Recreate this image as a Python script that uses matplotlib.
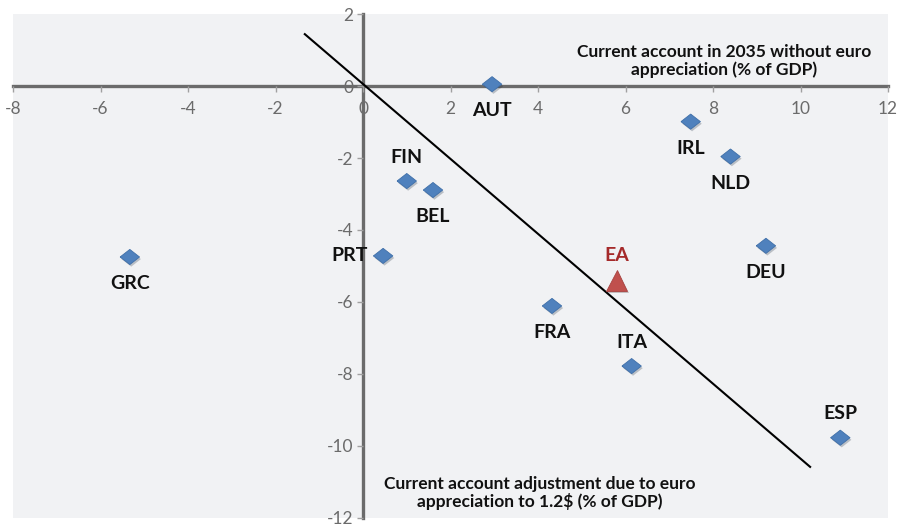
import matplotlib
matplotlib.use('Agg')
import matplotlib.pyplot as plt
import matplotlib.patheffects as pe
import numpy as np

# data
countries = ['GRC', 'PRT', 'FIN', 'BEL', 'AUT', 'IRL', 'NLD', 'DEU', 'FRA', 'ITA', 'ESP']
ca_2035 = [-5.33, 0.46, 1.0, 1.6, 2.95, 7.49, 8.4, 9.21, 4.32, 6.14, 10.91]
ca_adjust = [-4.75, -4.72, -2.64, -2.89, 0.05, -0.99, -1.96, -4.44, -6.11, -7.78, -9.77]
label_side = ['below', 'left', 'above', 'below', 'below', 'below', 'below', 'below', 'below', 'above', 'above']

ea_x = [5.8]
ea_y = [-5.4]

fit_x = [-1.33, 10.22]
fit_y = [1.44, -10.58]

xticks = [-8, -6, -4, -2, 0, 2, 4, 6, 8, 10, 12]
yticks = [-12, -10, -8, -6, -4, -2, 0, 2]

plt.rcParams['font.family'] = ['Lato', 'DejaVu Sans']

fig = plt.figure(figsize=(8.97, 5.25), dpi=100)
ax = fig.add_axes([13 / 897, 7 / 525, 875 / 897, 504 / 525])
ax.set_facecolor('#f1f2f4')
ax.set_xlim(-8, 12)
ax.set_ylim(-12, 2)

# axes through the origin
for s in ['top', 'right']:
    ax.spines[s].set_visible(False)
ax.spines['left'].set_position(('data', 0))
ax.spines['bottom'].set_position(('data', 0))
for s in ['left', 'bottom']:
    ax.spines[s].set_color('#6b6b6b')
    ax.spines[s].set_linewidth(2.4)
    ax.spines[s].set_zorder(1)

ax.set_xticks(xticks)
ax.set_yticks(yticks)
ax.set_xticklabels([str(t) for t in xticks])
ax.set_yticklabels([str(t) for t in yticks])
ax.tick_params(axis='both', colors='#a0a0a0', labelcolor='#6b6b6b', labelsize=12.5,
               length=4, width=1, direction='out')
ax.tick_params(axis='x', pad=7)
ax.tick_params(axis='y', pad=3)

# regression line
ax.plot(fit_x, fit_y, color='black', lw=1.5, zorder=2)

shadow = [pe.SimplePatchShadow(offset=(1, -1.5), alpha=0.25), pe.Normal()]
diamond = [(-1, 0), (0, 0.78), (1, 0), (0, -0.78), (-1, 0)]
ax.plot(ca_2035, ca_adjust, linestyle='none', marker=diamond, markersize=14,
        markerfacecolor='#4f81bd', markeredgecolor='#3f6fa8', markeredgewidth=0.6, zorder=3,
        path_effects=shadow)
ax.plot(ea_x, ea_y, linestyle='none', marker='^', markersize=15,
        markerfacecolor='#c0504d', markeredgecolor='#a84340', markeredgewidth=0.6, zorder=3,
        path_effects=shadow)

for name, x, y, side in zip(countries, ca_2035, ca_adjust, label_side):
    if side == 'below':
        ax.annotate(name, (x, y), xytext=(0, -13), textcoords='offset points',
                    ha='center', va='top', fontsize=14, fontweight='bold', color='#111111')
    elif side == 'above':
        ax.annotate(name, (x, y), xytext=(0, 11), textcoords='offset points',
                    ha='center', va='bottom', fontsize=14, fontweight='bold', color='#111111')
    else:
        ax.annotate(name, (x, y), xytext=(-11, 0), textcoords='offset points',
                    ha='right', va='center', fontsize=14, fontweight='bold', color='#111111')

ax.annotate('EA', (ea_x[0], ea_y[0]), xytext=(0, 12), textcoords='offset points',
            ha='center', va='bottom', fontsize=14, fontweight='bold', color='#a52a2a')

ax.text(8.25, 0.7, 'Current account in 2035 without euro\nappreciation (% of GDP)',
        ha='center', va='center', fontsize=12.5, fontweight='bold', color='#111111',
        linespacing=1.1)
ax.text(4.05, -11.3, 'Current account adjustment due to euro\nappreciation to 1.2$ (% of GDP)',
        ha='center', va='center', fontsize=12.5, fontweight='bold', color='#111111',
        linespacing=1.1)

fig.savefig('out.png', dpi=100)
